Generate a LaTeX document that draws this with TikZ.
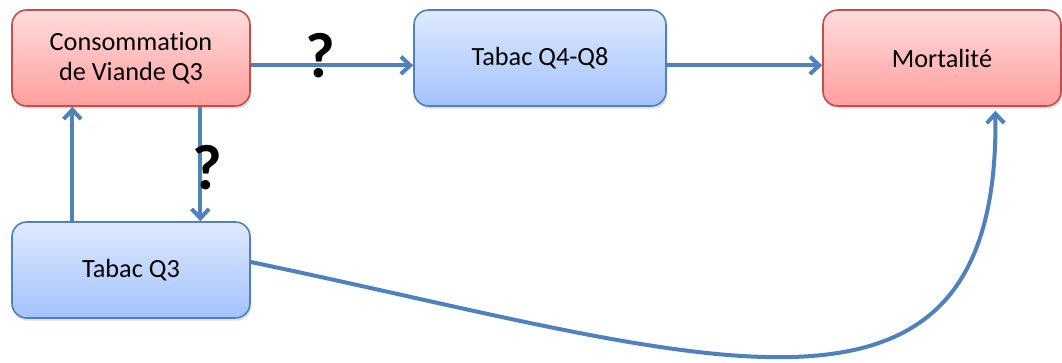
\documentclass[tikz,border=0pt]{standalone}
\usepackage{fontspec}
\setmainfont{Carlito}[Ligatures={NoCommon,NoRequired,NoContextual}]
\usetikzlibrary{arrows.meta,shadows}
\definecolor{linkblue}{RGB}{79,129,189}
\definecolor{redline}{RGB}{192,80,77}
\definecolor{redtop}{RGB}{255,220,220}
\definecolor{redbot}{RGB}{255,158,158}
\definecolor{bluetop}{RGB}{222,234,255}
\definecolor{bluebot}{RGB}{163,194,252}
\begin{document}
\begin{tikzpicture}[x=0.75pt, y=-0.75pt,
    box/.style={rounded corners=11pt, line width=1.2pt, inner sep=0pt, align=center,
      minimum width=178.5pt, minimum height=72pt,
      font=\fontsize{19.7}{22.5}\selectfont,
      drop shadow={shadow xshift=1pt, shadow yshift=-2pt, opacity=0.25}},
    redbox/.style={box, draw=redline, top color=redtop, bottom color=redbot},
    bluebox/.style={box, draw=linkblue, top color=bluetop, bottom color=bluebot},
    link/.style={draw=linkblue, line width=3pt, -{Straight Barb[length=7pt, width=13pt]}},
    qmark/.style={font=\bfseries\fontsize{48}{48}\selectfont, inner sep=0pt}]
    \useasboundingbox (0,0) rectangle (1062,363);
    %nodes
    \node[redbox] (viande) at (131, 58) {Consommation\\de Viande Q3};
    \node[bluebox, minimum width=189pt] (tabac48) at (540, 58) {Tabac Q4-Q8};
    \node[redbox] (mort) at (942, 58) {Mortalité};
    \node[bluebox] (tabac3) at (131, 270) {Tabac Q3};

    %edges
    \draw[link] ([yshift=-5.5pt]viande.east) -- ([yshift=-5.5pt]tabac48.west);
    \draw[link] ([yshift=-5.5pt]tabac48.east) -- ([yshift=-5.5pt]mort.west);
    \draw[link] ([xshift=52pt]viande.south) -- ([xshift=52pt]tabac3.north);
    \draw[link] ([xshift=-44pt]tabac3.north) -- ([xshift=-44pt]viande.south);
    \draw[link] ([yshift=6pt]tabac3.east) .. controls (700, 356) and (1000, 470) .. ([xshift=40pt, yshift=-3pt]mort.south);

    %labels
    \node[qmark] (q1) at (320, 56) {?};
    \node[qmark] (q2) at (207, 168) {?};
\end{tikzpicture}
\end{document}
